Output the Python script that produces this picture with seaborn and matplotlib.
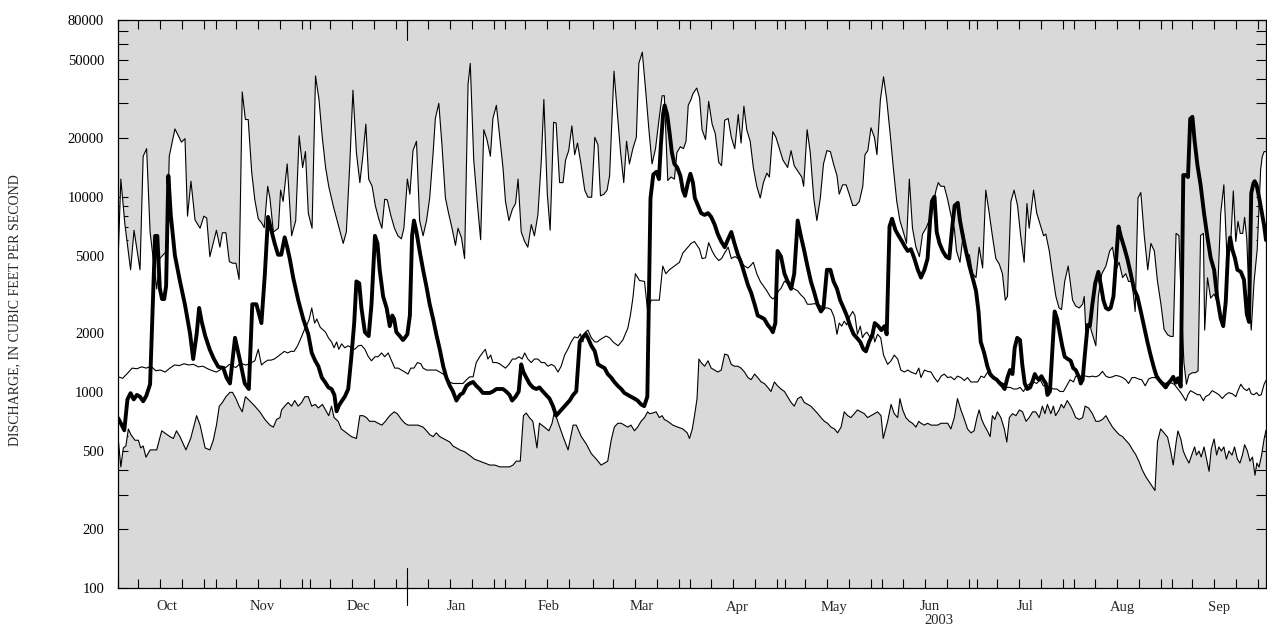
import numpy as np
import pandas as pd
import matplotlib
matplotlib.use("Agg")
import matplotlib.pyplot as plt
import seaborn as sns
from matplotlib.ticker import FixedLocator, NullFormatter, FixedFormatter

# ---------------- data (water year Oct 2002 - Sep 2003, day 0 = Oct 1) ----------------
months = ["Oct", "Nov", "Dec", "Jan", "Feb", "Mar", "Apr", "May", "Jun", "Jul", "Aug", "Sep"]
month_days = [31, 30, 31, 31, 28, 31, 30, 31, 30, 31, 31, 30]
year_label = "2003"
y_major = [100, 200, 500, 1000, 2000, 5000, 10000, 20000, 50000, 80000]
y_minor = [300, 400, 600, 700, 800, 900, 3000, 4000, 6000, 7000, 8000, 9000,
           30000, 40000, 60000, 70000]
y_label = "DISCHARGE, IN CUBIC FEET PER SECOND"

# maximum daily discharge of record
max_pts = [(0.0, 4620), (0.9, 12300), (2.2, 7200), (4.0, 4230), (5.1, 6740), (7.0, 4230), (8.0, 16100),
    (9.1, 17600), (10.2, 6600), (12.3, 3380), (13.3, 4830), (15.5, 5280), (16.3, 16100), (18.1, 22200),
    (20.2, 19000), (21.3, 19800), (22.1, 7950), (23.2, 12000), (24.5, 7600), (26.1, 6900), (27.3, 7950),
    (28.2, 7780), (29.2, 4940), (31.3, 6740), (32.4, 5520), (33.2, 6540), (34.3, 6540), (35.4, 4660),
    (36.4, 4570), (37.5, 4570), (38.5, 3780), (39.5, 34300), (40.5, 24800), (41.4, 24800), (42.5, 13400),
    (43.5, 9640), (44.6, 7710), (45.6, 7370), (46.5, 6950), (47.6, 11300), (48.3, 9850), (49.4, 6600),
    (51.0, 6900), (51.7, 10800), (52.5, 9450), (53.8, 14700), (55.2, 6310), (56.5, 7550), (57.6, 20500),
    (58.7, 14100), (59.6, 17000), (60.5, 8240), (61.7, 6900), (62.8, 41400), (63.9, 31400), (64.9, 20500),
    (66.0, 14100), (67.0, 11300), (68.4, 9020), (70.0, 7200), (71.6, 5770), (72.6, 6600), (73.7, 14700),
    (74.7, 35000), (75.8, 16800), (76.9, 11800), (77.9, 16400), (78.8, 23500), (79.7, 12300), (80.8, 11300),
    (81.8, 9020), (82.9, 7710), (83.9, 6900), (84.8, 9700), (85.6, 9640), (86.7, 8070), (87.9, 6900),
    (89.0, 6310), (90.1, 6090), (90.9, 6900), (92.0, 12300), (92.8, 10300), (93.8, 17200), (94.9, 19200),
    (95.9, 7550), (97.0, 6310), (98.1, 7550), (99.1, 9850), (100.2, 16800), (100.9, 25100), (102.0, 30000),
    (103.0, 18400), (104.1, 9850), (105.1, 8240), (106.2, 6900), (107.3, 5640), (108.1, 6900), (109.2, 6170),
    (110.2, 4830), (111.3, 37500), (112.0, 48000), (113.1, 15400), (114.2, 9450), (115.3, 6030),
    (116.3, 22000), (117.3, 19600), (118.4, 16100), (119.2, 25100), (120.3, 29300), (121.4, 20100),
    (122.4, 14100), (123.2, 9450), (124.3, 7550), (125.4, 8630), (126.4, 9230), (127.2, 12300), (128.2, 6600),
    (129.3, 5900), (130.3, 5520), (131.4, 7200), (132.4, 6310), (133.5, 8070), (134.6, 15400), (135.4, 31400),
    (136.5, 10300), (137.4, 6740), (138.5, 24000), (139.3, 23800), (140.4, 11800), (141.5, 11800),
    (142.3, 15400), (143.3, 17200), (144.3, 23000), (145.2, 16400), (146.1, 18800), (147.2, 14700),
    (148.4, 10800), (149.4, 9940), (150.6, 9940), (151.6, 20100), (152.6, 18400), (153.4, 10100),
    (154.5, 10300), (155.5, 10800), (156.3, 12800), (157.7, 43800), (158.7, 27500), (159.8, 16800),
    (160.8, 11800), (161.7, 19200), (162.6, 14700), (163.7, 17600), (164.8, 20100), (165.6, 48000),
    (166.7, 54800), (167.7, 35900), (168.8, 22000), (169.8, 14700), (170.9, 17600), (171.9, 24000),
    (173.0, 32800), (173.7, 32800), (174.8, 12100), (175.8, 12600), (176.9, 12300), (177.7, 16800),
    (178.8, 18000), (179.8, 17600), (180.6, 19200), (181.3, 29300), (182.2, 31400), (182.8, 33600),
    (184.0, 35900), (184.9, 32100), (185.7, 22000), (186.8, 19600), (187.8, 30700), (188.9, 23500),
    (189.9, 21000), (191.0, 15000), (191.9, 14400), (192.9, 24600), (194.0, 25100), (195.0, 20100),
    (196.1, 17600), (197.2, 26300), (198.1, 18800), (199.0, 29000), (199.9, 22000), (201.0, 19200),
    (202.0, 14100), (203.1, 11300), (204.2, 9850), (205.2, 11800), (206.3, 13200), (207.1, 12600),
    (208.2, 21500), (209.2, 20100), (210.3, 17600), (211.4, 15400), (212.9, 14100), (214.0, 17200),
    (215.0, 14400), (216.3, 13400), (217.4, 12600), (218.0, 11300), (219.1, 22000), (220.1, 16800),
    (221.2, 9850), (222.2, 7550), (223.3, 9850), (224.3, 14700), (225.4, 17200), (226.5, 17000),
    (227.5, 14700), (228.6, 12800), (229.3, 10300), (230.4, 11500), (231.5, 11500), (232.5, 10300),
    (233.6, 9020), (234.6, 9020), (235.7, 9450), (236.8, 11300), (237.5, 16400), (238.4, 17200),
    (239.4, 22500), (240.5, 20100), (241.3, 16400), (242.4, 31400), (243.4, 41000), (244.4, 31400),
    (245.5, 21000), (246.5, 14100), (247.6, 9450), (248.6, 7550), (249.7, 6600), (250.7, 5770),
    (251.6, 12300), (252.6, 6900), (253.7, 5520), (254.8, 4940), (255.8, 6440), (256.9, 6900),
    (257.9, 7550), (259.0, 8830), (260.1, 10800), (260.8, 11800), (261.6, 11300), (262.7, 11300),
    (263.8, 9640), (264.8, 8070), (265.9, 6900), (266.6, 5280), (267.7, 4620), (268.8, 6600), (269.6, 5050),
    (270.7, 5050), (271.7, 4040), (272.8, 3860), (273.8, 5520), (274.9, 4320), (275.9, 10800), (277.0, 8240),
    (278.0, 6310), (279.1, 4830), (280.2, 4520), (281.2, 4040), (282.1, 2960), (282.8, 3090), (283.9, 9450),
    (284.9, 10800), (286.0, 9020), (287.0, 6310), (288.1, 4620), (289.0, 9230), (289.7, 6900), (291.1, 10800),
    (292.1, 8240), (293.2, 7200), (294.3, 6310), (295.0, 6440), (296.1, 5280), (297.1, 4040), (298.2, 3090),
    (299.2, 2700), (300.0, 2650), (301.0, 3690), (302.1, 4420), (303.5, 2960), (304.5, 2760), (305.6, 2700),
    (306.7, 2820), (307.2, 3090), (307.7, 2070), (308.8, 2260), (309.8, 1980), (310.9, 1730), (311.7, 3090),
    (312.8, 4040), (314.1, 4420), (315.3, 5280), (316.2, 5520), (317.3, 4230), (318.3, 4620), (319.4, 3860),
    (320.4, 4040), (321.3, 3690), (322.4, 3690), (323.4, 2590), (324.3, 9850), (325.2, 10500), (326.3, 6310),
    (327.4, 4230), (328.4, 5770), (329.5, 5280), (330.5, 3690), (331.6, 2820), (332.6, 2100), (333.7, 1970),
    (334.7, 1930), (335.5, 1930), (336.4, 6490), (337.3, 6340), (338.1, 2760), (338.9, 1420), (339.7, 1100),
    (340.5, 1230), (341.6, 1260), (342.6, 1260), (343.4, 1290), (344.2, 6340), (345.1, 6490), (345.5, 2080),
    (346.4, 3850), (347.4, 3030), (348.5, 3180), (349.5, 2900), (350.6, 8220), (351.6, 11500), (352.7, 4430),
    (353.8, 5900), (354.6, 10700), (355.4, 5900), (356.1, 7480), (356.8, 6490), (357.6, 6490), (358.2, 7840),
    (358.9, 6040), (359.6, 3030), (360.3, 2080), (361.2, 3670), (362.2, 5360), (363.3, 13800), (363.8, 16000),
    (364.4, 17000), (365.0, 17000)]

# minimum daily discharge of record
min_pts = [(0.0, 594), (0.9, 416), (1.7, 520), (2.5, 532), (3.3, 650), (4.1, 608), (5.4, 569), (6.5, 569),
    (7.2, 520), (8.0, 532), (8.9, 466), (10.2, 508), (12.3, 508), (13.9, 636), (16.5, 594), (17.6, 581),
    (18.6, 636), (19.7, 594), (21.6, 508), (23.1, 581), (25.0, 760), (26.1, 680), (27.7, 520), (29.2, 508),
    (30.3, 569), (31.3, 680), (32.2, 850), (33.2, 888), (34.3, 950), (35.6, 1000), (36.4, 1000), (37.5, 929),
    (38.5, 850), (39.5, 795), (40.5, 950), (41.8, 908), (43.5, 850), (45.1, 795), (46.7, 727), (48.3, 680),
    (49.4, 664), (50.4, 727), (51.5, 743), (52.0, 813), (53.0, 850), (54.1, 888), (55.2, 850), (56.2, 908),
    (57.3, 850), (58.4, 888), (59.4, 950), (60.5, 950), (61.6, 850), (62.7, 868), (63.7, 832), (65.0, 868),
    (66.0, 813), (67.0, 760), (67.9, 850), (68.7, 743), (70.0, 711), (71.0, 650), (72.6, 621), (74.2, 594),
    (75.8, 581), (76.9, 760), (77.9, 760), (79.0, 743), (80.0, 711), (81.6, 711), (82.7, 695), (83.9, 680),
    (85.0, 711), (86.4, 760), (87.8, 795), (88.8, 778), (90.1, 727), (91.2, 695), (92.2, 680), (94.3, 680),
    (95.4, 680), (97.0, 664), (98.1, 636), (99.1, 608), (100.2, 594), (101.2, 621), (102.3, 594), (103.4, 581),
    (104.4, 569), (105.5, 557), (106.5, 532), (107.6, 520), (108.7, 508), (110.2, 497), (111.8, 476),
    (113.4, 455), (115.0, 445), (116.6, 435), (118.2, 425), (119.8, 425), (121.4, 416), (122.9, 416),
    (124.5, 416), (125.6, 425), (126.6, 445), (127.9, 445), (128.9, 760), (129.8, 784), (130.8, 743),
    (131.9, 711), (133.2, 520), (134.0, 695), (135.6, 664), (137.0, 636), (138.0, 695), (138.8, 800),
    (139.8, 711), (141.5, 594), (143.1, 508), (144.7, 680), (145.7, 680), (147.3, 594), (148.9, 544),
    (150.5, 486), (152.1, 455), (153.6, 425), (154.7, 435), (155.7, 445), (156.8, 569), (157.8, 664),
    (158.9, 695), (160.0, 695), (161.0, 680), (162.1, 664), (163.1, 680), (164.2, 636), (165.2, 664),
    (166.3, 711), (167.4, 743), (168.4, 795), (169.0, 778), (170.0, 784), (171.1, 795), (172.1, 743),
    (173.0, 760), (173.7, 727), (174.8, 711), (176.4, 680), (178.0, 664), (179.6, 650), (181.0, 620),
    (181.7, 581), (182.6, 650), (183.3, 760), (184.1, 929), (184.7, 1480), (185.4, 1420), (186.5, 1360),
    (187.6, 1450), (188.6, 1330), (189.7, 1300), (190.7, 1270), (191.8, 1300), (192.9, 1570), (193.9, 1550),
    (195.0, 1390), (196.0, 1360), (197.1, 1360), (198.1, 1330), (199.2, 1270), (200.3, 1190), (201.3, 1160),
    (202.4, 1240), (203.4, 1190), (204.5, 1130), (205.5, 1110), (206.6, 1060), (207.6, 1010), (208.7, 1130),
    (209.7, 1080), (210.8, 1040), (211.9, 1010), (212.9, 950), (214.0, 888), (215.0, 850), (216.1, 929),
    (217.2, 950), (218.2, 888), (219.3, 868), (220.3, 850), (221.4, 813), (222.5, 778), (223.5, 743),
    (224.6, 711), (225.6, 695), (226.7, 664), (227.8, 650), (228.8, 621), (229.9, 664), (230.9, 795),
    (232.0, 760), (233.0, 743), (234.1, 778), (235.1, 813), (236.2, 795), (237.3, 778), (238.3, 743),
    (239.4, 760), (240.5, 778), (241.5, 795), (242.6, 760), (243.3, 581), (244.7, 711), (245.8, 868),
    (246.8, 778), (247.9, 743), (248.6, 929), (249.5, 813), (250.5, 743), (251.6, 711), (252.6, 695),
    (253.7, 664), (254.6, 711), (255.3, 695), (256.4, 680), (257.4, 695), (258.5, 680), (259.5, 680),
    (260.6, 680), (261.7, 695), (262.7, 695), (263.8, 695), (264.8, 650), (265.9, 743), (266.9, 929),
    (268.0, 813), (269.1, 727), (270.1, 650), (271.2, 621), (272.2, 636), (273.1, 743), (273.8, 813),
    (274.6, 727), (275.4, 680), (276.4, 636), (277.3, 594), (278.0, 760), (278.8, 727), (279.6, 795),
    (280.7, 743), (281.8, 650), (282.6, 557), (283.4, 743), (284.4, 778), (285.5, 760), (286.6, 813),
    (287.6, 795), (288.7, 711), (289.7, 743), (290.8, 795), (291.8, 795), (292.9, 743), (293.9, 850),
    (294.7, 778), (295.5, 868), (296.6, 778), (297.4, 850), (298.1, 760), (299.2, 813), (299.9, 868),
    (300.7, 832), (301.8, 908), (302.9, 850), (303.5, 813), (304.5, 743), (305.6, 727), (306.7, 743),
    (307.5, 850), (308.6, 832), (309.8, 778), (310.9, 711), (311.9, 711), (313.0, 727), (314.1, 760),
    (315.1, 711), (316.2, 664), (317.2, 636), (318.3, 608), (319.4, 594), (320.4, 569), (321.5, 544),
    (322.6, 508), (323.6, 480), (324.7, 440), (325.7, 400), (326.8, 370), (327.8, 350), (328.9, 330),
    (329.7, 315), (330.5, 560), (331.5, 650), (332.6, 620), (333.7, 590), (334.7, 501), (335.5, 425),
    (336.4, 551), (337.0, 635), (337.9, 578), (338.7, 501), (339.5, 467), (340.5, 435), (341.6, 490),
    (342.3, 526), (342.9, 478), (343.7, 501), (344.4, 467), (345.3, 526), (346.1, 456), (346.9, 395),
    (347.6, 513), (348.5, 578), (349.3, 478), (350.0, 526), (350.8, 501), (351.6, 526), (352.4, 456),
    (353.2, 501), (354.2, 478), (355.0, 526), (355.9, 456), (356.7, 435), (357.5, 478), (358.2, 540),
    (359.1, 501), (359.9, 445), (360.7, 467), (361.5, 377), (362.1, 435), (362.8, 415), (363.6, 478),
    (364.4, 578), (365.0, 640)]

# median daily discharge of record
med_pts = [(0.0, 1200), (1.5, 1180), (3.0, 1250), (4.5, 1330), (6.0, 1320), (7.5, 1350), (9.0, 1330),
    (10.5, 1360), (12.0, 1290), (13.5, 1300), (15.0, 1270), (16.5, 1330), (18.0, 1380), (19.5, 1370),
    (21.0, 1400), (22.5, 1380), (24.0, 1390), (25.5, 1350), (27.0, 1360), (28.5, 1320), (30.0, 1290),
    (31.3, 1270), (32.4, 1300), (33.2, 1360), (34.3, 1340), (35.4, 1390), (36.4, 1360), (37.5, 1340),
    (38.5, 1390), (39.5, 1400), (40.5, 1380), (41.4, 1390), (42.5, 1420), (43.5, 1450), (44.6, 1660),
    (45.6, 1380), (46.5, 1420), (47.6, 1460), (48.6, 1460), (49.7, 1480), (50.7, 1520), (51.8, 1570),
    (52.9, 1620), (53.9, 1590), (55.0, 1620), (56.0, 1620), (57.1, 1730), (58.2, 1900), (59.2, 2080),
    (60.3, 2260), (60.8, 2370), (61.6, 2700), (62.5, 2260), (63.2, 2370), (64.3, 2150), (65.3, 2080),
    (66.0, 2030), (66.9, 1900), (67.9, 1810), (68.7, 1690), (69.5, 1810), (70.2, 1660), (71.1, 1770),
    (72.1, 1690), (73.2, 1730), (74.2, 1690), (75.3, 1660), (76.4, 1730), (77.4, 1740), (78.5, 1660),
    (79.6, 1520), (80.6, 1450), (81.7, 1520), (82.7, 1520), (83.8, 1590), (84.8, 1520), (85.9, 1590),
    (87.0, 1450), (88.0, 1330), (89.1, 1330), (90.1, 1300), (91.2, 1270), (92.2, 1240), (93.1, 1330),
    (94.1, 1330), (95.2, 1420), (96.3, 1400), (97.0, 1330), (98.1, 1300), (99.1, 1300), (100.2, 1300),
    (101.2, 1300), (102.3, 1270), (103.4, 1240), (104.4, 1190), (105.5, 1130), (106.5, 1110), (107.6, 1110),
    (108.7, 1110), (109.7, 1110), (110.8, 1160), (111.8, 1200), (112.9, 1200), (113.9, 1420), (115.0, 1520),
    (116.0, 1600), (116.8, 1660), (117.6, 1480), (118.5, 1550), (119.2, 1420), (120.3, 1420), (121.3, 1400),
    (122.4, 1360), (123.2, 1330), (124.3, 1390), (125.4, 1480), (126.4, 1480), (127.5, 1520), (128.5, 1480),
    (129.3, 1590), (130.3, 1480), (131.4, 1420), (132.4, 1480), (133.5, 1480), (134.6, 1420), (135.6, 1420),
    (136.7, 1360), (137.8, 1390), (138.8, 1360), (139.9, 1270), (140.9, 1360), (142.0, 1550), (143.0, 1660),
    (144.1, 1810), (145.1, 1920), (146.2, 1900), (147.0, 1990), (147.8, 1810), (148.6, 2030), (149.4, 2080),
    (150.5, 1900), (151.6, 1810), (152.4, 1810), (153.1, 1850), (154.2, 1900), (155.2, 1940), (156.3, 1900),
    (157.4, 1810), (159.0, 1730), (160.5, 1850), (162.1, 2130), (162.9, 2470), (163.7, 3030), (164.5, 4040),
    (165.8, 3730), (167.4, 3690), (168.4, 2590), (169.5, 2960), (171.1, 2960), (172.1, 2960), (173.2, 4420),
    (174.2, 4040), (175.3, 4230), (176.9, 4420), (178.5, 4620), (179.6, 5160), (181.2, 5520), (182.2, 5770),
    (183.3, 5900), (184.9, 5390), (185.7, 4830), (186.8, 4870), (187.8, 5820), (188.9, 5280), (189.9, 4940),
    (191.0, 4720), (191.9, 4830), (192.9, 5160), (194.0, 5520), (195.0, 4830), (196.1, 4940), (197.2, 4830),
    (198.1, 4620), (199.2, 4420), (200.3, 4320), (201.0, 4420), (202.0, 4620), (203.1, 4040), (204.2, 3690),
    (205.2, 3500), (206.3, 3300), (207.3, 3100), (208.2, 3000), (209.2, 3100), (210.0, 3300), (210.8, 3400),
    (211.9, 3700), (212.9, 3610), (214.0, 3450), (215.0, 3380), (216.1, 3300), (217.1, 3150), (218.2, 3030),
    (219.2, 2820), (220.3, 2820), (221.4, 2840), (222.4, 2820), (223.5, 2760), (224.6, 2700), (225.6, 2700),
    (226.7, 2650), (227.7, 2420), (228.6, 1980), (229.3, 2260), (230.1, 2180), (230.9, 2310), (231.7, 2210),
    (232.5, 2420), (233.6, 2590), (234.3, 2470), (235.1, 1980), (236.0, 2180), (236.7, 1900), (237.3, 1980),
    (238.1, 2030), (239.2, 1900), (239.9, 2080), (240.6, 1810), (241.5, 1980), (242.5, 1900), (243.4, 1550),
    (244.7, 1390), (245.8, 1450), (246.8, 1550), (247.9, 1480), (248.9, 1300), (250.0, 1270), (251.1, 1300),
    (252.1, 1270), (253.7, 1240), (254.6, 1330), (255.3, 1190), (256.4, 1300), (257.4, 1280), (258.5, 1270),
    (259.5, 1190), (260.6, 1130), (261.7, 1210), (262.7, 1240), (263.8, 1190), (264.8, 1200), (265.9, 1160),
    (266.9, 1210), (268.0, 1190), (269.1, 1150), (270.1, 1190), (271.2, 1130), (272.2, 1130), (273.3, 1130),
    (274.4, 1210), (275.4, 1190), (276.5, 1270), (277.3, 1210), (278.4, 1190), (279.4, 1160), (280.5, 1130),
    (281.5, 1110), (282.6, 1060), (283.7, 1060), (284.7, 1040), (285.8, 1040), (286.8, 1060), (287.9, 1010),
    (289.0, 1080), (290.0, 1110), (291.1, 1130), (292.1, 1110), (293.2, 1160), (294.2, 1080), (295.3, 1080),
    (296.4, 1060), (297.4, 1040), (298.5, 1040), (299.5, 1010), (300.6, 1010), (301.6, 1080), (302.7, 1160),
    (303.8, 1130), (304.5, 1210), (305.6, 1200), (306.7, 1220), (307.7, 1210), (308.8, 1200), (309.8, 1210),
    (310.9, 1200), (311.9, 1220), (313.0, 1280), (314.1, 1210), (315.1, 1190), (316.2, 1200), (317.2, 1220),
    (318.3, 1210), (319.4, 1190), (320.4, 1160), (321.3, 1110), (322.4, 1190), (323.4, 1190), (324.5, 1170),
    (325.5, 1160), (326.6, 1080), (327.7, 1170), (328.7, 1190), (329.8, 1190), (330.8, 1160), (331.9, 1130),
    (333.0, 1110), (334.0, 1130), (334.7, 1120), (335.8, 1100), (336.8, 1050), (337.9, 997), (338.7, 951),
    (339.5, 906), (340.2, 973), (341.0, 1020), (342.1, 997), (343.2, 973), (344.0, 973), (345.1, 906),
    (345.8, 951), (346.9, 973), (347.9, 1020), (349.0, 997), (350.0, 973), (351.1, 930), (352.2, 973),
    (353.2, 997), (354.3, 983), (355.4, 951), (356.1, 1020), (357.0, 1100), (357.8, 1050), (358.9, 1020),
    (359.6, 1050), (360.3, 983), (361.2, 973), (362.0, 997), (362.8, 962), (363.5, 973), (364.4, 1100),
    (365.0, 1150)]

# daily mean discharge, water year 2003
cur_pts = [(0.0, 740), (1.0, 690), (2.0, 640), (3.0, 920), (4.0, 990), (5.0, 920), (6.0, 970), (7.0, 950),
    (8.0, 900), (9.0, 960), (10.2, 1100), (11.8, 6300), (12.5, 6300), (13.3, 3400), (14.0, 3000), (14.7, 3000),
    (15.3, 3500), (16.0, 12800), (16.8, 8000), (18.1, 5000), (19.7, 3700), (21.3, 2800), (22.9, 2000),
    (23.9, 1480), (25.0, 1980), (25.8, 2700), (26.6, 2300), (27.7, 1950), (29.2, 1650), (30.5, 1480),
    (31.9, 1350), (33.5, 1330), (34.5, 1190), (35.6, 1110), (37.2, 1900), (38.8, 1450), (40.3, 1110),
    (41.6, 1040), (42.7, 2820), (44.0, 2820), (45.6, 2260), (46.7, 4040), (47.7, 7880), (49.8, 5770),
    (50.9, 5050), (51.9, 5050), (53.0, 6200), (53.8, 5520), (54.6, 4830), (55.7, 3860), (57.3, 2960),
    (58.9, 2370), (60.5, 1980), (61.6, 1590), (62.7, 1450), (63.7, 1360), (64.8, 1190), (65.8, 1130),
    (66.9, 1060), (67.9, 1040), (68.8, 970), (69.5, 800), (70.3, 860), (71.1, 900), (72.1, 950), (73.2, 1040),
    (74.2, 1520), (75.1, 2260), (75.8, 3690), (76.7, 3610), (77.4, 2700), (78.5, 2030), (79.7, 1940),
    (80.6, 2820), (81.7, 6310), (82.5, 5770), (83.2, 4230), (84.3, 3090), (85.4, 2700), (86.4, 2180),
    (87.2, 2470), (87.8, 2370), (88.5, 2030), (89.6, 1940), (90.6, 1850), (91.2, 1900), (92.0, 1980),
    (92.8, 2470), (93.5, 6310), (94.1, 7550), (94.9, 6600), (95.9, 5280), (97.0, 4230), (98.1, 3450),
    (99.1, 2820), (100.2, 2370), (101.2, 1980), (102.3, 1660), (103.4, 1360), (104.4, 1190), (105.5, 1080),
    (106.5, 1010), (107.6, 908), (108.7, 970), (109.7, 993), (110.8, 1080), (111.8, 1110), (112.9, 1130),
    (113.9, 1080), (115.0, 1040), (116.0, 993), (117.1, 993), (118.2, 993), (119.2, 1010), (120.3, 1040),
    (121.3, 1040), (122.4, 1040), (123.4, 1010), (124.5, 970), (125.3, 908), (126.4, 950), (127.4, 1010),
    (128.2, 1390), (128.9, 1270), (129.8, 1190), (130.8, 1110), (131.9, 1060), (133.0, 1040), (134.0, 1060),
    (135.1, 1010), (136.1, 970), (137.2, 929), (138.3, 850), (139.3, 760), (140.4, 795), (141.5, 832),
    (142.5, 868), (143.6, 908), (144.7, 970), (145.7, 1010), (146.8, 1810), (147.6, 1900), (148.7, 1990),
    (149.4, 1900), (150.5, 1730), (151.6, 1620), (152.6, 1390), (153.6, 1360), (154.7, 1330), (155.7, 1240),
    (156.8, 1190), (157.8, 1130), (158.9, 1080), (160.0, 1040), (161.0, 993), (162.1, 970), (163.1, 950),
    (164.2, 929), (165.2, 908), (166.3, 868), (167.3, 850), (168.3, 950), (169.3, 9800), (170.2, 13000),
    (171.2, 13400), (172.0, 12300), (172.6, 18400), (173.3, 26300), (173.8, 29300), (174.6, 26300),
    (175.4, 21000), (176.1, 16800), (176.9, 14700), (177.8, 14100), (178.8, 12800), (179.6, 10800),
    (180.3, 10100), (181.2, 11800), (182.0, 13100), (182.8, 11800), (183.4, 9850), (184.4, 9020),
    (185.4, 8240), (186.5, 8070), (187.6, 8240), (188.6, 7880), (189.7, 7200), (190.7, 6440), (191.8, 5900),
    (192.9, 5520), (193.9, 6030), (195.0, 6600), (196.0, 5770), (197.1, 5050), (198.1, 4620), (199.2, 4040),
    (200.3, 3530), (201.3, 3230), (202.4, 2820), (203.4, 2470), (204.5, 2420), (205.5, 2370), (206.6, 2210),
    (207.6, 2110), (208.2, 2030), (209.0, 2260), (209.7, 5280), (210.8, 4940), (211.9, 4040), (212.9, 3690),
    (214.0, 3380), (215.0, 4040), (216.1, 7550), (217.1, 6310), (218.2, 5280), (219.2, 4420), (220.3, 3690),
    (221.4, 3230), (222.4, 2820), (223.5, 2590), (224.3, 2700), (225.4, 4230), (226.5, 4230), (227.5, 3690),
    (228.6, 3380), (229.6, 2960), (230.7, 2700), (231.7, 2470), (232.8, 2180), (233.9, 1980), (234.9, 1900),
    (236.0, 1810), (237.0, 1660), (237.8, 1620), (238.8, 1810), (239.9, 1980), (240.6, 2260), (241.7, 2180),
    (242.7, 2080), (243.7, 2180), (244.4, 1980), (245.3, 7040), (246.1, 7710), (247.2, 6740), (248.2, 6310),
    (249.3, 5900), (250.3, 5520), (251.1, 5280), (252.1, 5390), (253.2, 4830), (254.3, 4230), (255.3, 3860),
    (256.4, 4230), (257.4, 4830), (258.2, 7550), (258.8, 9500), (259.6, 10000), (260.3, 6600), (261.2, 5770),
    (262.2, 5280), (263.3, 4940), (264.3, 4830), (265.2, 6900), (266.0, 9000), (267.0, 9300), (267.7, 7550),
    (268.6, 6310), (269.6, 5280), (270.7, 4420), (271.7, 3860), (272.8, 3300), (273.6, 2590), (274.3, 1810),
    (275.4, 1590), (276.4, 1360), (277.3, 1240), (278.3, 1190), (279.4, 1160), (280.4, 1110), (281.2, 1080),
    (281.9, 1040), (282.8, 1190), (283.6, 1300), (284.4, 1240), (285.1, 1690), (285.9, 1900), (286.8, 1850),
    (287.5, 1390), (288.3, 1110), (289.1, 1040), (290.0, 1060), (290.7, 1130), (291.5, 1240), (292.1, 1190),
    (292.8, 1160), (293.6, 1210), (294.2, 1160), (295.0, 1110), (295.5, 970), (296.3, 1010), (297.1, 1660),
    (297.8, 2590), (298.6, 2370), (299.5, 1980), (300.2, 1730), (301.0, 1520), (302.0, 1480), (302.9, 1450),
    (303.7, 1330), (304.5, 1300), (305.6, 1190), (306.1, 1110), (306.7, 1160), (307.5, 1620), (308.3, 2210),
    (309.0, 2180), (309.8, 2820), (310.7, 3610), (311.7, 4130), (312.5, 3530), (313.3, 2960), (314.1, 2700),
    (314.9, 2650), (315.6, 2700), (316.5, 3090), (317.2, 4420), (318.1, 7040), (318.8, 6310), (319.9, 5520),
    (320.9, 4830), (322.0, 4040), (323.0, 3380), (324.1, 3090), (325.2, 2590), (326.2, 2180), (327.3, 1810),
    (328.3, 1550), (329.4, 1330), (330.2, 1210), (331.0, 1160), (332.0, 1110), (333.1, 1060), (333.9, 1110),
    (334.7, 1150), (335.5, 1200), (336.3, 1120), (337.0, 1180), (337.9, 1070), (338.7, 12900), (339.5, 12900),
    (340.2, 12600), (340.9, 25000), (341.6, 25600), (342.3, 19300), (343.2, 14500), (344.2, 11500),
    (345.3, 8220), (346.4, 6180), (347.4, 4870), (348.5, 4230), (349.5, 3040), (350.6, 2390), (351.4, 2180),
    (352.2, 2900), (352.9, 5120), (353.6, 6180), (354.3, 5360), (355.1, 4870), (355.9, 4230), (357.0, 4130),
    (358.0, 3760), (358.9, 2510), (359.6, 2290), (360.3, 10400), (361.0, 11700), (361.4, 12000),
    (362.0, 11500), (362.8, 9930), (363.5, 8610), (364.4, 7130), (365.0, 6000)]

# ---------------- figure ----------------
sns.set_theme(style="white")
plt.rcParams["font.family"] = ["Liberation Serif", "DejaVu Serif"]

W, H = 1267, 630
fig = plt.figure(figsize=(W / 100, H / 100), dpi=100)
fig.patch.set_facecolor("white")
ax = fig.add_axes([118 / W, 42 / H, 1148 / W, 568 / H])
ax.set_facecolor("#d9d9d9")

def frame(pts):
    return pd.DataFrame(pts, columns=["day", "cfs"])

df_max, df_min, df_med, df_cur = frame(max_pts), frame(min_pts), frame(med_pts), frame(cur_pts)

# white envelope between the max and min of record
env_x = np.r_[df_max["day"].values, df_min["day"].values[::-1]]
env_y = np.r_[df_max["cfs"].values, df_min["cfs"].values[::-1]]
ax.fill(env_x, env_y, color="white", lw=0, zorder=1)

for df, lw, z in [(df_max, 0.8, 3), (df_min, 0.8, 3), (df_med, 0.8, 3), (df_cur, 2.8, 4)]:
    sns.lineplot(data=df, x="day", y="cfs", ax=ax, color="black", lw=lw,
                 estimator=None, sort=False, zorder=z, legend=False)

ax.set_yscale("log")
ax.set_xlim(0, 365)
ax.set_ylim(100, 80000)
ax.set_xlabel("")
ax.set_ylabel("")

# y ticks
ax.yaxis.set_major_locator(FixedLocator(y_major))
ax.yaxis.set_major_formatter(FixedFormatter([str(v) for v in y_major]))
ax.yaxis.set_minor_locator(FixedLocator(y_minor))
ax.yaxis.set_minor_formatter(NullFormatter())
ax.tick_params(axis="y", which="both", direction="in", left=True, right=True,
               length=7, width=0.8, colors="black", labelsize=10.5, pad=10)

# x ticks: month boundaries + weekly marks; month names centred in months
starts = np.cumsum([0] + month_days[:-1])
tick_pos = []
for s, n in zip(starts, month_days):
    tick_pos.append(s)
    tick_pos += [s + k - 0.5 for k in (7, 14, 21, 28) if k < n]
centres = starts + np.array(month_days) / 2.0
ax.xaxis.set_major_locator(FixedLocator(tick_pos))
ax.xaxis.set_major_formatter(NullFormatter())
ax.xaxis.set_minor_locator(FixedLocator(list(centres)))
ax.xaxis.set_minor_formatter(FixedFormatter(months))
ax.tick_params(axis="x", which="major", direction="in", top=True, bottom=True,
               length=6.5, width=0.8, colors="black")
ax.tick_params(axis="x", which="minor", length=0, top=False, bottom=False,
               labelsize=10.5, pad=9)

# calendar-year boundary tick (Jan 1)
jan1 = starts[3]
xt = ax.get_xaxis_transform()
ax.plot([jan1, jan1], [-0.03, 0.036], transform=xt, color="black", lw=0.8, clip_on=False, zorder=5)
ax.plot([jan1, jan1], [0.965, 1.0], transform=xt, color="black", lw=0.8, clip_on=False, zorder=5)

ax.text(starts[8] + 18, -0.058, year_label, transform=xt, ha="center", va="center", fontsize=10.5)

for sp in ax.spines.values():
    sp.set_color("black")
    sp.set_linewidth(0.9)
    sp.set_zorder(6)

fig.text(15 / W, 0.508, y_label, rotation=90, ha="center", va="center", fontsize=10)

fig.savefig("out.png", dpi=100)
